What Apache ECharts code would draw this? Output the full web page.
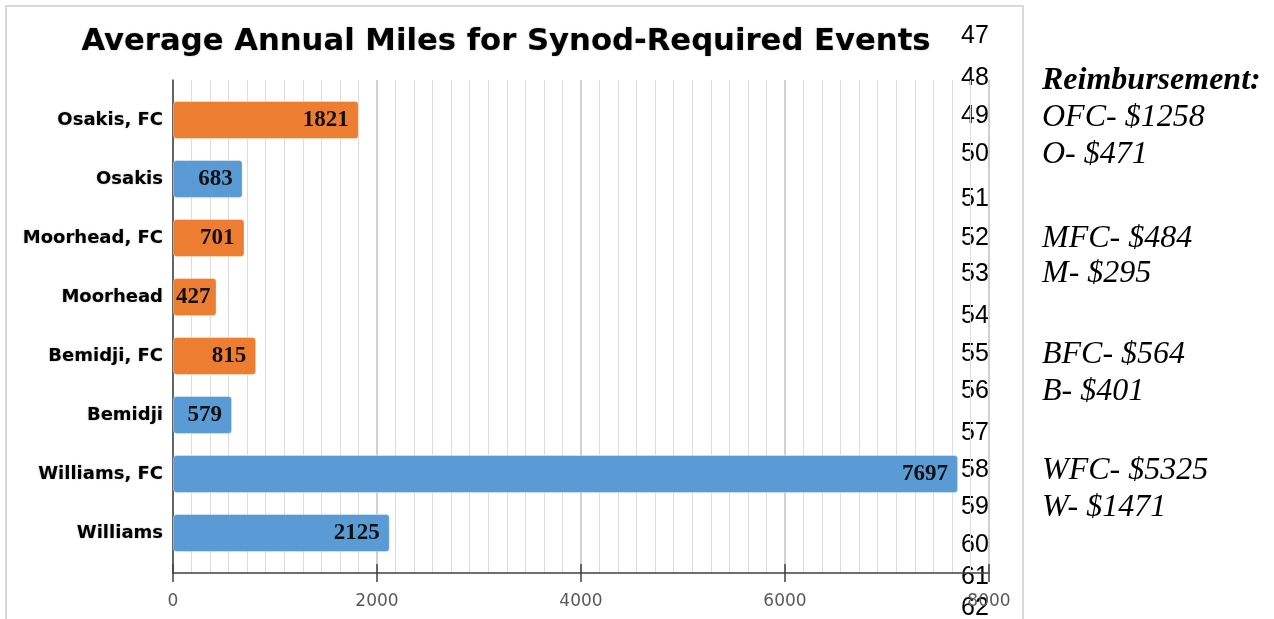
<!DOCTYPE html>
<html><head><meta charset="utf-8">
<script src="https://cdn.jsdelivr.net/npm/echarts@6/dist/echarts.min.js"></script>
<style>html,body{margin:0;padding:0;background:#fff;overflow:hidden}#c{width:1274px;height:619px}</style>
</head><body><div id="c"></div>
<script>
// ---- data ----
const chartTitle = 'Average Annual Miles for Synod-Required Events';
const categories = ['Osakis, FC', 'Osakis', 'Moorhead, FC', 'Moorhead', 'Bemidji, FC', 'Bemidji', 'Williams, FC', 'Williams'];
const orangeMiles = [1821, null, 701, 427, 815, null, null, null];
const blueMiles = [null, 683, null, null, null, 579, 7697, 2125];
const xTicks = [0, 2000, 4000, 6000, 8000];
const lineNumbers = ['47', '48', '49', '50', '51', '52', '53', '54', '55', '56', '57', '58', '59', '60', '61', '62'];
const reimbursementHeading = 'Reimbursement:';
const reimbursementLines = ['OFC- $1258', 'O- $471', 'MFC- $484', 'M- $295', 'BFC- $564', 'B- $401', 'WFC- $5325', 'W- $1471'];

// ---- layout (not data) ----
const lineNumberY = [36, 78, 116, 154, 199, 238, 274, 316, 354, 391, 433, 470, 507, 545, 577, 608];
const reimbHeadingY = 81;
const reimbY = [118, 155, 239, 274, 355, 392, 471, 508];

const xMin = xTicks[0], xMax = xTicks[xTicks.length - 1], xStep = xTicks[1] - xTicks[0];
const ORANGE = '#ED7D31', BLUE = '#5B9BD5';
const gL = 173, gR = 1274 - 989;

function toItems(arr) {
  return arr.map(v => {
    if (v === null) return null;
    if (v < 500) return { value: v, label: { position: 'insideLeft', distance: 3 } };
    return v;
  });
}

const barLabel = {
  show: true, position: 'insideRight', distance: 10,
  fontFamily: 'Liberation Serif', fontWeight: 'bold', fontSize: 23, color: '#111'
};

const graphics = [
  { type: 'rect', shape: { x: 6, y: 6, width: 1017, height: 640 }, style: { fill: 'none', stroke: '#d9d9d9', lineWidth: 2 }, z: -10 },
  { type: 'text', x: 506, y: 42, style: { text: chartTitle, textAlign: 'center', textVerticalAlign: 'middle',
      font: 'bold 30.7px "DejaVu Sans"', fill: '#000', textShadowColor: 'rgba(0,0,0,0.3)', textShadowBlur: 2 } }
];
lineNumbers.forEach((t, i) => graphics.push({ type: 'text', x: 961, y: lineNumberY[i], z: -5,
  style: { text: t, textAlign: 'left', textVerticalAlign: 'middle', font: '25px "Liberation Sans"', fill: '#000' } }));
graphics.push({ type: 'text', x: 1042, y: reimbHeadingY,
  style: { text: reimbursementHeading, textAlign: 'left', textVerticalAlign: 'middle', font: 'italic bold 32px "Liberation Serif"', fill: '#000' } });
reimbursementLines.forEach((t, i) => graphics.push({ type: 'text', x: 1042, y: reimbY[i],
  style: { text: t, textAlign: 'left', textVerticalAlign: 'middle', font: 'italic 32px "Liberation Serif"', fill: '#000' } }));

const option = {
  animation: false,
  backgroundColor: '#fff',
  grid: [
    { left: gL, right: gR, top: 80, bottom: 619 - 573, containLabel: false },
    { left: gL, right: gR, top: 90.5, bottom: 619 - 562.5, containLabel: false }
  ],
  xAxis: [
    { gridIndex: 0, type: 'value', position: 'bottom', min: xMin, max: xMax, interval: xStep,
      axisLine: { show: true, lineStyle: { color: '#404040', width: 1.5 } },
      axisTick: { show: true, length: 9, lineStyle: { color: '#404040', width: 1.5 } },
      axisLabel: { show: true, margin: 20, fontFamily: 'DejaVu Sans', fontSize: 17, color: '#595959', formatter: v => String(v) },
      splitLine: { show: true, lineStyle: { color: '#d0d0d0', width: 2 } },
      minorTick: { show: false, splitNumber: 11 },
      minorSplitLine: { show: true, lineStyle: { color: '#dcdcdc', width: 1 } } },
    { gridIndex: 0, type: 'value', position: 'bottom', min: xMin, max: xMax, interval: xStep, z: 5,
      axisLine: { show: false },
      axisTick: { show: true, inside: true, length: 9, lineStyle: { color: '#404040', width: 1.5 } },
      axisLabel: { show: false }, splitLine: { show: false } },
    { gridIndex: 1, type: 'value', min: xMin, max: xMax, interval: xStep, show: false }
  ],
  yAxis: [
    { gridIndex: 0, type: 'value', min: 0, max: 1,
      axisLine: { show: true, lineStyle: { color: '#404040', width: 1.5 } },
      axisTick: { show: false }, axisLabel: { show: false }, splitLine: { show: false } },
    { gridIndex: 1, type: 'category', data: categories, inverse: true,
      axisLine: { show: false }, axisTick: { show: false },
      axisLabel: { margin: 10, fontFamily: 'DejaVu Sans', fontWeight: 'bold', fontSize: 18, color: '#000',
        textShadowColor: 'rgba(0,0,0,0.3)', textShadowBlur: 2 } }
  ],
  series: [
    { type: 'bar', xAxisIndex: 2, yAxisIndex: 1, data: toItems(orangeMiles), barWidth: 38, barGap: '-100%',
      itemStyle: { color: ORANGE, borderRadius: 3, borderColor: 'rgba(255,255,255,0.35)', borderWidth: 1 }, label: barLabel },
    { type: 'bar', xAxisIndex: 2, yAxisIndex: 1, data: toItems(blueMiles), barWidth: 38, barGap: '-100%',
      itemStyle: { color: BLUE, borderRadius: 3, borderColor: 'rgba(255,255,255,0.35)', borderWidth: 1 }, label: barLabel }
  ],
  graphic: graphics
};

const chart = echarts.init(document.getElementById('c'), null, { renderer: 'canvas' });
chart.setOption(option);
</script>
</body></html>
